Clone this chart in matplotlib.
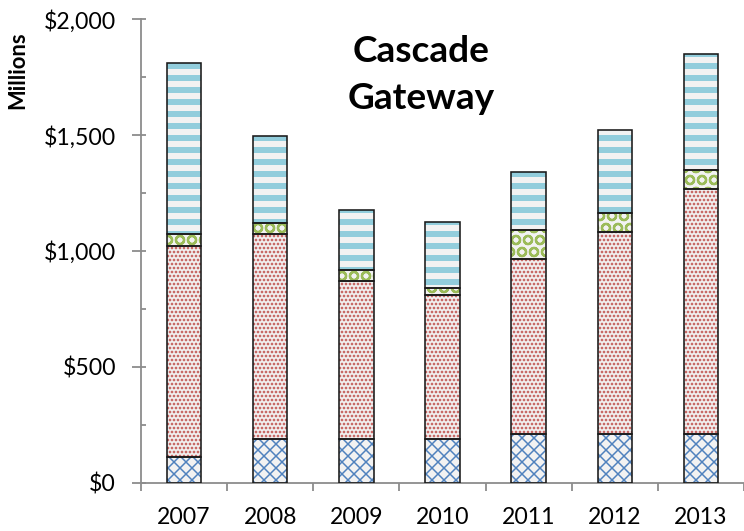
import numpy as np
import matplotlib
matplotlib.use("Agg")
from matplotlib import pyplot as plt
from matplotlib.ticker import FuncFormatter, MultipleLocator

years = ['2007', '2008', '2009', '2010', '2011', '2012', '2013']

# stacked segments, bottom to top (millions of $)
layer_1 = [111, 186, 188, 188, 211, 211, 210]
layer_2 = [909, 888, 683, 620, 755, 869, 1058]
layer_3 = [52, 48, 47, 30, 123, 84, 81]
layer_4 = [738, 375, 260, 288, 253, 359, 500]

plt.rcParams['font.family'] = ['Lato', 'DejaVu Sans']

# dpi 72 -> 1 pt == 1 px
fig = plt.figure(figsize=(744 / 72, 531 / 72), dpi=72)
ax = fig.add_axes([141 / 744, 48.5 / 531, 603 / 744, 463.2 / 531])

x = np.arange(len(years))
width = 0.40
bottom = np.zeros(len(years))

layers = [
    (layer_1, 'xx', '#4f81bd', 1.5),
    (layer_2, '...', '#c0504d', 1.8),
    (layer_3, 'O', '#9bbb59', 2.2),
    (layer_4, '-', '#92cddc', 6.0),
]

for vals, hatch, color, hlw in layers:
    vals = np.array(vals)
    plt.rcParams['hatch.linewidth'] = hlw
    ax.bar(x, vals, width, bottom=bottom, color='#f2f2f2', edgecolor=color,
           hatch=hatch, linewidth=0, zorder=2)
    ax.bar(x, vals, width, bottom=bottom, fill=False, edgecolor='#1a1a1a',
           linewidth=1.6, zorder=3)
    bottom += vals

ax.set_xlim(-0.5, 6.43)
ax.set_ylim(0, 2000)

for s in ['top', 'right']:
    ax.spines[s].set_visible(False)
for s in ['left', 'bottom']:
    ax.spines[s].set_color('#8c8c8c')
    ax.spines[s].set_linewidth(1.8)

# x: labels at centres, ticks between categories
ax.set_xticks(x)
ax.set_xticklabels(years)
ax.set_xticks(np.arange(-0.5, 7, 1), minor=True)
ax.tick_params(axis='x', which='major', length=0, pad=24, labelsize=23)
ax.tick_params(axis='x', which='minor', length=8, width=1.8, color='#8c8c8c',
               direction='out')

# y
ax.yaxis.set_major_locator(MultipleLocator(500))
ax.yaxis.set_minor_locator(MultipleLocator(250))
ax.yaxis.remove_overlapping_locs = False
ax.yaxis.set_major_formatter(FuncFormatter(lambda v, p: '${:,.0f}'.format(v)))
ax.tick_params(axis='y', which='major', length=9, width=1.8, color='#8c8c8c',
               direction='out', pad=16, labelsize=23)
ax.tick_params(axis='y', which='minor', length=5, width=1.8, color='#8c8c8c',
               direction='in')

fig.text(18 / 744, 1 - 70 / 531, 'Millions', rotation=90, fontsize=22,
         fontweight='bold', ha='center', va='center')
fig.text(421 / 744, 1 - 75 / 531, 'Cascade\nGateway', fontsize=37,
         fontweight='bold', ha='center', va='center', linespacing=1.5)

fig.savefig('out.png', dpi=72)
